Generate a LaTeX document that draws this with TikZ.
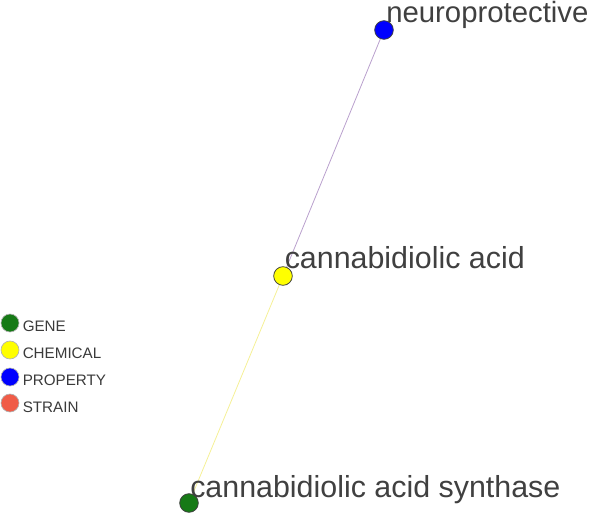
\documentclass[tikz,border=0pt]{standalone}
\usepackage{fontspec}
\setmainfont{Liberation Sans}
\usetikzlibrary{positioning}

\definecolor{genegreen}{RGB}{22,122,22}
\definecolor{chemyellow}{RGB}{255,255,0}
\definecolor{propblue}{RGB}{0,0,255}
\definecolor{strainred}{RGB}{240,92,72}
\definecolor{labelgray}{RGB}{64,64,64}
\definecolor{edgepurple}{RGB}{185,160,205}
\definecolor{edgeyellow}{RGB}{245,240,150}

\tikzset{
  entity/.style={circle,draw=black!75,line width=0.6pt,inner sep=0pt,minimum size=14pt},
  keydot/.style={circle,draw=gray!60,line width=0.5pt,inner sep=0pt,minimum size=13.5pt},
  entitytext/.style={anchor=base west,inner sep=0pt,text=labelgray,font=\fontsize{#1}{24}\selectfont},
  entitytext/.default=22,
  keytext/.style={anchor=west,inner sep=0pt,text=labelgray!90!black,font=\fontsize{11.4}{13}\selectfont}
}

\begin{document}
\begin{tikzpicture}[x=0.75pt,y=-0.75pt]
                \useasboundingbox (0,0) rectangle (595,516);
                % graph
                \node[entity,fill=propblue] (neuro) at (384,30) {};
                \node[entity,fill=chemyellow] (cbda) at (283,276) {};
                \node[entity,fill=genegreen] (cbdas) at (189,503) {};
                \draw[edgepurple,line width=0.6pt] (neuro) -- (cbda);
                \draw[edgeyellow,line width=0.6pt] (cbda) -- (cbdas);
                \node[entitytext] (neurotext) at (386,22.5) {neuroprotective};
                \node[entitytext=22.8] (cbdatext) at (284.5,268) {cannabidiolic acid};
                \node[entitytext=22.8] (cbdastext) at (190,497) {cannabidiolic acid synthase};
                % legend
                \node[keydot,fill=genegreen] (keygene) at (10,323) {};
                \node[keydot,fill=chemyellow] (keychem) at (10,350) {};
                \node[keydot,fill=propblue] (keyprop) at (10,377) {};
                \node[keydot,fill=strainred] (keystrain) at (10,403) {};
                \node[keytext] (genetext) at (22.5,326) {GENE};
                \node[keytext] (chemtext) at (22.5,353) {CHEMICAL};
                \node[keytext] (proptext) at (22.5,380) {PROPERTY};
                \node[keytext] (straintext) at (22.5,407) {STRAIN};
\end{tikzpicture}
\end{document}
